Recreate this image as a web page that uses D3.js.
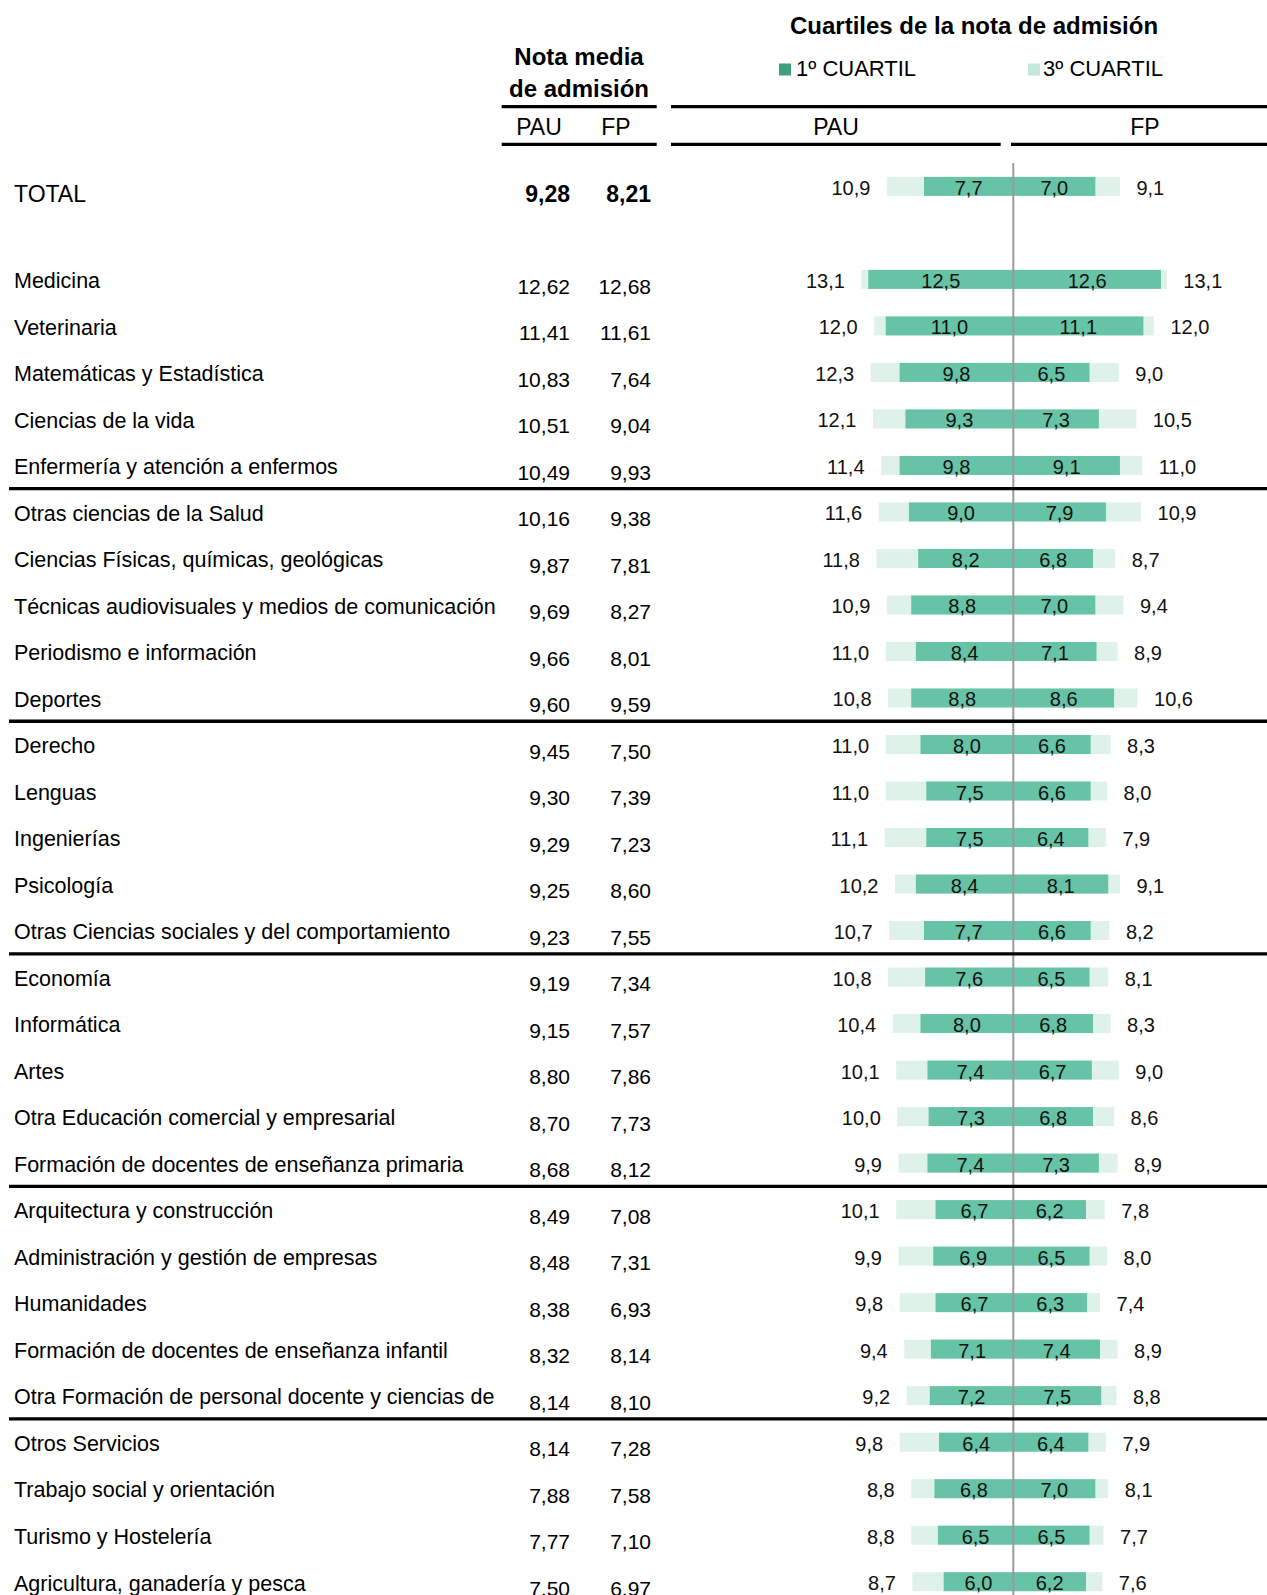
<!DOCTYPE html>
<html>
<head>
<meta charset="utf-8">
<script src="https://cdn.jsdelivr.net/npm/d3@7"></script>
<style>
  html, body { margin: 0; padding: 0; background: #fff; }
  svg { display: block; font-family: "Liberation Sans", Arial, sans-serif; }
</style>
</head>
<body>
<svg id="chart" width="1267" height="1595"></svg>
<script>
// ---------------- DATA ----------------
const categories = [
  "Medicina", "Veterinaria", "Matemáticas y Estadística", "Ciencias de la vida",
  "Enfermería y atención a enfermos", "Otras ciencias de la Salud",
  "Ciencias Físicas, químicas, geológicas", "Técnicas audiovisuales y medios de comunicación",
  "Periodismo e información", "Deportes", "Derecho", "Lenguas", "Ingenierías", "Psicología",
  "Otras Ciencias sociales y del comportamiento", "Economía", "Informática", "Artes",
  "Otra Educación comercial y empresarial", "Formación de docentes de enseñanza primaria",
  "Arquitectura y construcción", "Administración y gestión de empresas", "Humanidades",
  "Formación de docentes de enseñanza infantil",
  "Otra Formación de personal docente y ciencias de la",
  "Otros Servicios", "Trabajo social y orientación", "Turismo y Hostelería",
  "Agricultura, ganadería y pesca"
];
const pauMean = [12.62, 11.41, 10.83, 10.51, 10.49, 10.16, 9.87, 9.69, 9.66, 9.60, 9.45, 9.30, 9.29, 9.25, 9.23,
  9.19, 9.15, 8.80, 8.70, 8.68, 8.49, 8.48, 8.38, 8.32, 8.14, 8.14, 7.88, 7.77, 7.50];
const fpMean = [12.68, 11.61, 7.64, 9.04, 9.93, 9.38, 7.81, 8.27, 8.01, 9.59, 7.50, 7.39, 7.23, 8.60, 7.55,
  7.34, 7.57, 7.86, 7.73, 8.12, 7.08, 7.31, 6.93, 8.14, 8.10, 7.28, 7.58, 7.10, 6.97];
const pauQ3 = [13.1, 12.0, 12.3, 12.1, 11.4, 11.6, 11.8, 10.9, 11.0, 10.8, 11.0, 11.0, 11.1, 10.2, 10.7,
  10.8, 10.4, 10.1, 10.0, 9.9, 10.1, 9.9, 9.8, 9.4, 9.2, 9.8, 8.8, 8.8, 8.7];
const pauQ1 = [12.5, 11.0, 9.8, 9.3, 9.8, 9.0, 8.2, 8.8, 8.4, 8.8, 8.0, 7.5, 7.5, 8.4, 7.7,
  7.6, 8.0, 7.4, 7.3, 7.4, 6.7, 6.9, 6.7, 7.1, 7.2, 6.4, 6.8, 6.5, 6.0];
const fpQ1 = [12.6, 11.1, 6.5, 7.3, 9.1, 7.9, 6.8, 7.0, 7.1, 8.6, 6.6, 6.6, 6.4, 8.1, 6.6,
  6.5, 6.8, 6.7, 6.8, 7.3, 6.2, 6.5, 6.3, 7.4, 7.5, 6.4, 7.0, 6.5, 6.2];
const fpQ3 = [13.1, 12.0, 9.0, 10.5, 11.0, 10.9, 8.7, 9.4, 8.9, 10.6, 8.3, 8.0, 7.9, 9.1, 8.2,
  8.1, 8.3, 9.0, 8.6, 8.9, 7.8, 8.0, 7.4, 8.9, 8.8, 7.9, 8.1, 7.7, 7.6];

const totalLabel = "TOTAL";
const totalMean = [9.28, 8.21];          // PAU, FP
const totalQuartiles = [7.7, 10.9, 7.0, 9.1]; // PAU Q1, PAU Q3, FP Q1, FP Q3

const groupSize = 5;
const headerTitle = "Cuartiles de la nota de admisión";
const headerMean = ["Nota media", "de admisión"];
const legendLabels = ["1º CUARTIL", "3º CUARTIL"];
const colLabels = ["PAU", "FP"];

// ---------------- SETUP ----------------
const W = 1267, H = 1595;
const svg = d3.select("#chart");
const loc = d3.formatLocale({decimal: ",", thousands: ".", grouping: [3], currency: ["", "€"]});
const f1 = loc.format(".1f"), f2 = loc.format(".2f");

const colDark = "#66c3a5", colLight = "#dff2ea";
const legDark = "#3f9f80", legLight = "#c3e8da";

const cx = 1013.3;
const xPau = d3.scaleLinear().domain([0, 10]).range([cx, cx - 116.0]);
const xFp = d3.scaleLinear().domain([0, 10]).range([cx, cx + 117.2]);
const y = d3.scaleLinear().domain([0, categories.length - 1]).range([279.4, 1581.7]);
const barH = 19;
const totalY = y(-2);

const rows = categories.map((c, i) => ({
  name: c, pm: pauMean[i], fm: fpMean[i], pq1: pauQ1[i], pq3: pauQ3[i], fq1: fpQ1[i], fq3: fpQ3[i], cy: y(i)
}));
const allRows = [{name: totalLabel, pm: totalMean[0], fm: totalMean[1], pq1: totalQuartiles[0], pq3: totalQuartiles[1],
  fq1: totalQuartiles[2], fq3: totalQuartiles[3], cy: totalY, total: true}].concat(rows);

// ---------------- HEADER ----------------
svg.append("text").attr("x", 974).attr("y", 34).attr("text-anchor", "middle")
  .attr("font-weight", "bold").attr("font-size", 24).text(headerTitle);
svg.append("text").attr("x", 579).attr("y", 65).attr("text-anchor", "middle")
  .attr("font-weight", "bold").attr("font-size", 24).text(headerMean[0]);
svg.append("text").attr("x", 579).attr("y", 96.5).attr("text-anchor", "middle")
  .attr("font-weight", "bold").attr("font-size", 24).text(headerMean[1]);

// legend
const legend = [{x: 779, c: legDark, t: legendLabels[0]}, {x: 1028, c: legLight, t: legendLabels[1]}];
legend.forEach((l, i) => {
  svg.append("rect").attr("x", l.x).attr("y", 63.5).attr("width", 12).attr("height", 12).attr("fill", l.c);
  svg.append("text").attr("x", l.x + (i === 0 ? 17 : 15)).attr("y", 76).attr("font-size", 22).text(l.t);
});

// header rules
const hLines = [
  [501.7, 656.7, 106.7], [671, W, 106.7],
  [501.7, 656.7, 144.3], [671, 1000.7, 144.3], [1011, W, 144.3]
];
svg.selectAll("line.hdr").data(hLines).join("line").attr("class", "hdr")
  .attr("x1", d => d[0]).attr("x2", d => d[1]).attr("y1", d => d[2]).attr("y2", d => d[2])
  .attr("stroke", "#000").attr("stroke-width", 3.3);

// column labels
[[539, colLabels[0]], [616, colLabels[1]], [836, colLabels[0]], [1145, colLabels[1]]].forEach(d => {
  svg.append("text").attr("x", d[0]).attr("y", 135).attr("text-anchor", "middle")
    .attr("font-size", 23).text(d[1]);
});

// ---------------- BARS ----------------
const g = svg.append("g");
// light (3rd quartile)
g.selectAll("rect.pq3").data(allRows).join("rect")
  .attr("x", d => xPau(d.pq3)).attr("width", d => cx - xPau(d.pq3))
  .attr("y", d => d.cy - barH / 2).attr("height", barH).attr("fill", colLight);
g.selectAll("rect.fq3").data(allRows).join("rect")
  .attr("x", cx).attr("width", d => xFp(d.fq3) - cx)
  .attr("y", d => d.cy - barH / 2).attr("height", barH).attr("fill", colLight);
// dark (1st quartile)
g.selectAll("rect.pq1").data(allRows).join("rect")
  .attr("x", d => xPau(d.pq1)).attr("width", d => cx - xPau(d.pq1))
  .attr("y", d => d.cy - barH / 2).attr("height", barH).attr("fill", colDark);
g.selectAll("rect.fq1").data(allRows).join("rect")
  .attr("x", cx).attr("width", d => xFp(d.fq1) - cx)
  .attr("y", d => d.cy - barH / 2).attr("height", barH).attr("fill", colDark);

// bar value labels
const bl = svg.append("g").attr("font-size", 20).attr("fill", "#111");
bl.selectAll("text.a").data(allRows).join("text").attr("text-anchor", "middle")
  .attr("x", d => (xPau(d.pq1) + cx) / 2).attr("y", d => d.cy + 8.5).text(d => f1(d.pq1));
bl.selectAll("text.b").data(allRows).join("text").attr("text-anchor", "middle")
  .attr("x", d => (xFp(d.fq1) + cx) / 2).attr("y", d => d.cy + 8.5).text(d => f1(d.fq1));
bl.selectAll("text.c").data(allRows).join("text").attr("text-anchor", "end")
  .attr("x", d => xPau(d.pq3) - 16.5).attr("y", d => d.cy + 8.5).text(d => f1(d.pq3));
bl.selectAll("text.d").data(allRows).join("text").attr("text-anchor", "start")
  .attr("x", d => xFp(d.fq3) + 16.5).attr("y", d => d.cy + 8.5).text(d => f1(d.fq3));

// center line
svg.append("line").attr("x1", cx).attr("x2", cx).attr("y1", 163).attr("y2", H)
  .attr("stroke", "#9a9a9a").attr("stroke-width", 2);

// ---------------- LEFT TABLE ----------------
svg.append("defs").append("clipPath").attr("id", "labclip")
  .append("rect").attr("x", 0).attr("y", 0).attr("width", 499).attr("height", H);

svg.append("g").attr("clip-path", "url(#labclip)").attr("font-size", 21.5)
  .selectAll("text").data(rows).join("text")
  .attr("x", 14).attr("y", d => d.cy + 8.8).text(d => d.name);

const mg = svg.append("g").attr("font-size", 21).attr("text-anchor", "end");
mg.selectAll("text.pm").data(rows).join("text").attr("x", 570).attr("y", d => d.cy + 14.3).text(d => f2(d.pm));
mg.selectAll("text.fm").data(rows).join("text").attr("x", 651).attr("y", d => d.cy + 14.3).text(d => f2(d.fm));

// TOTAL row
svg.append("text").attr("x", 14).attr("y", totalY + 16).attr("font-size", 23).text(totalLabel);
svg.append("text").attr("x", 570).attr("y", totalY + 16).attr("font-size", 23).attr("font-weight", "bold")
  .attr("text-anchor", "end").text(f2(totalMean[0]));
svg.append("text").attr("x", 651).attr("y", totalY + 16).attr("font-size", 23).attr("font-weight", "bold")
  .attr("text-anchor", "end").text(f2(totalMean[1]));

// group separators
const seps = d3.range(groupSize, categories.length, groupSize).map(i => (y(i - 1) + y(i)) / 2);
svg.selectAll("line.sep").data(seps).join("line")
  .attr("x1", 9).attr("x2", W).attr("y1", d => d).attr("y2", d => d)
  .attr("stroke", "#000").attr("stroke-width", 3.3);
</script>
</body>
</html>
